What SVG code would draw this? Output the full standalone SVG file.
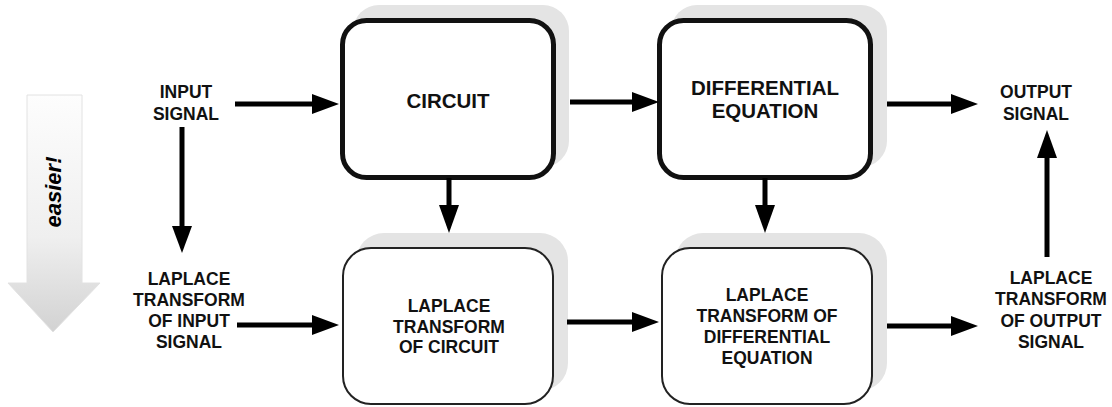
<svg xmlns="http://www.w3.org/2000/svg" width="1112" height="407" viewBox="0 0 1112 407">
<defs>
<linearGradient id="easyGrad" x1="0" y1="0" x2="0" y2="1">
<stop offset="0" stop-color="#fdfdfd"/>
<stop offset="0.6" stop-color="#efefef"/>
<stop offset="1" stop-color="#d2d2d2"/>
</linearGradient>
<style>
.lbl{font-family:"Liberation Sans",Arial,sans-serif;font-weight:bold;fill:#111;text-anchor:middle;}
.s17{font-size:17.5px;}
.s20{font-size:20.5px;}
.shadow{fill:#e4e4e4;}
.boxT{fill:#ffffff;stroke:#111;stroke-width:5;}
.boxB{fill:#ffffff;stroke:#222;stroke-width:2;}
.ln{stroke:#000;stroke-width:5;fill:none;}
.hd{fill:#000;}
</style>
</defs>
<rect width="1112" height="407" fill="#ffffff"/>

<g id="easier">
<path d="M27,95 L82,95 L82,283 L100,283 L53,332 L8,283 L27,283 Z" fill="url(#easyGrad)" stroke="#e2e2e2" stroke-width="1"/>
<text class="lbl" transform="translate(61,192) rotate(-90)" style="font-size:22px;font-style:italic;fill:#000;">easier!</text>
</g>

<g id="input-signal">
<text class="lbl s17" x="186" y="98">INPUT</text>
<text class="lbl s17" x="186" y="120">SIGNAL</text>
</g>

<g id="circuit">
<rect class="shadow" x="353" y="5" width="216" height="162" rx="26"/>
<rect class="boxT" x="342.5" y="20.5" width="211" height="157" rx="24"/>
<text class="lbl s20" x="448" y="108">CIRCUIT</text>
</g>

<g id="differential-equation">
<rect class="shadow" x="671" y="5" width="216" height="162" rx="26"/>
<rect class="boxT" x="659.5" y="20.5" width="211" height="157" rx="24"/>
<text class="lbl s20" x="765" y="95">DIFFERENTIAL</text>
<text class="lbl s20" x="765" y="118">EQUATION</text>
</g>

<g id="output-signal">
<text class="lbl s17" x="1036" y="98">OUTPUT</text>
<text class="lbl s17" x="1036" y="120">SIGNAL</text>
</g>

<g id="laplace-input">
<text class="lbl s17" x="189" y="285">LAPLACE</text>
<text class="lbl s17" x="189" y="306">TRANSFORM</text>
<text class="lbl s17" x="189" y="327">OF INPUT</text>
<text class="lbl s17" x="189" y="348">SIGNAL</text>
</g>

<g id="laplace-circuit">
<rect class="shadow" x="356" y="233" width="212" height="158" rx="28"/>
<rect class="boxB" x="343" y="248" width="210" height="156" rx="28"/>
<text class="lbl s17" x="449" y="312">LAPLACE</text>
<text class="lbl s17" x="449" y="333">TRANSFORM</text>
<text class="lbl s17" x="449" y="353">OF CIRCUIT</text>
</g>

<g id="laplace-diffeq">
<rect class="shadow" x="675" y="233" width="212" height="158" rx="28"/>
<rect class="boxB" x="662" y="248" width="210" height="156" rx="28"/>
<text class="lbl s17" x="767" y="301">LAPLACE</text>
<text class="lbl s17" x="767" y="322">TRANSFORM OF</text>
<text class="lbl s17" x="767" y="343">DIFFERENTIAL</text>
<text class="lbl s17" x="767" y="364">EQUATION</text>
</g>

<g id="laplace-output">
<text class="lbl s17" x="1051" y="284">LAPLACE</text>
<text class="lbl s17" x="1051" y="305">TRANSFORM</text>
<text class="lbl s17" x="1051" y="327">OF OUTPUT</text>
<text class="lbl s17" x="1051" y="348">SIGNAL</text>
</g>

<g id="connectors">
<line class="ln" x1="235" y1="104" x2="314" y2="104"/>
<polygon class="hd" points="312,94 339,104 312,114"/>
<line class="ln" x1="570" y1="102" x2="634" y2="102"/>
<polygon class="hd" points="632,92 659,102 632,112"/>
<line class="ln" x1="887" y1="104" x2="953" y2="104"/>
<polygon class="hd" points="951,94 978,104 951,114"/>

<line class="ln" x1="237" y1="325" x2="314" y2="325"/>
<polygon class="hd" points="312,315 339,325 312,335"/>
<line class="ln" x1="567" y1="322" x2="634" y2="322"/>
<polygon class="hd" points="632,312 659,322 632,332"/>
<line class="ln" x1="887" y1="326" x2="953" y2="326"/>
<polygon class="hd" points="951,316 978,326 951,336"/>

<line class="ln" x1="182" y1="127" x2="182" y2="228"/>
<polygon class="hd" points="172,226 182,253 192,226"/>
<line class="ln" x1="449" y1="178" x2="449" y2="207"/>
<polygon class="hd" points="439,205 449,233 459,205"/>
<line class="ln" x1="765" y1="178" x2="765" y2="207"/>
<polygon class="hd" points="755,205 765,233 775,205"/>
<line class="ln" x1="1047" y1="257" x2="1047" y2="156"/>
<polygon class="hd" points="1037,158 1047,130 1057,158"/>
</g>
</svg>
